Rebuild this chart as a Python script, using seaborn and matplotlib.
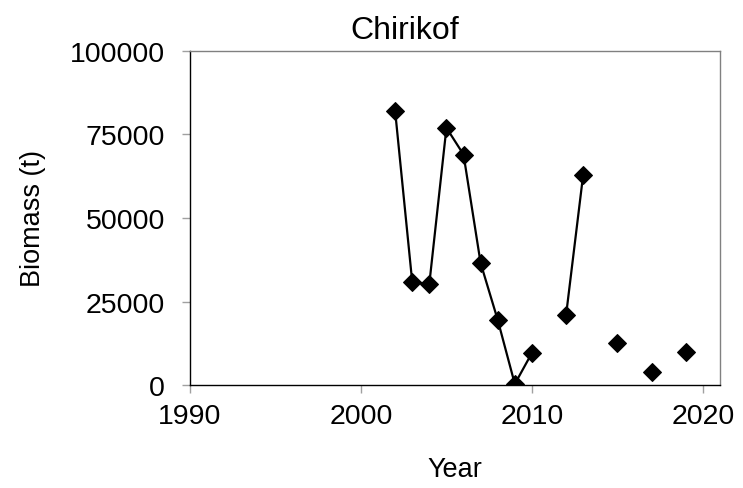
import matplotlib
matplotlib.use("Agg")
import matplotlib.pyplot as plt
import seaborn as sns
import numpy as np
import pandas as pd

# survey years and biomass estimates (t)
years = [2002, 2003, 2004, 2005, 2006, 2007, 2008, 2009, 2010, 2012, 2013, 2015, 2017, 2019]
biomass = [82000, 30800, 30300, 77000, 69000, 36500, 19500, 300, 9600, 21000, 63000, 12600, 4000, 9800]

x_ticks = [1990, 2000, 2010, 2020]
y_ticks = [0, 25000, 50000, 75000, 100000]

df = pd.DataFrame({"Year": years, "Biomass": biomass})
# break the line wherever a year is missing
df["segment"] = np.cumsum(np.r_[0, np.diff(df["Year"]) > 1])

sns.set_style("white")
plt.rcParams['font.family'] = ['Liberation Sans', 'DejaVu Sans']
plt.rcParams['text.color'] = 'black'
plt.rcParams['axes.labelcolor'] = 'black'

fig = plt.figure(figsize=(7.43, 4.89), dpi=100)
ax = fig.add_axes([0.2557, 0.2106, 0.7133, 0.6831])

sns.lineplot(data=df, x="Year", y="Biomass", units="segment", estimator=None,
             color="black", marker="D", markersize=9.5, markeredgecolor="black",
             linewidth=1.6, ax=ax)

ax.set_xlim(1990, 2021)
ax.set_ylim(0, 100000)
ax.set_xticks(x_ticks)
ax.set_yticks(y_ticks)
ax.set_xticklabels([str(t) for t in x_ticks])
ax.set_yticklabels([str(t) for t in y_ticks])

ax.tick_params(axis="both", direction="out", length=6, width=1, color="#a0a0a0",
               labelsize=20.5, labelcolor="black", bottom=True, left=True)
ax.tick_params(axis="x", pad=7)
ax.tick_params(axis="y", pad=12)

for side in ["left", "bottom"]:
    ax.spines[side].set_color("black")
    ax.spines[side].set_linewidth(1)
for side in ["top", "right"]:
    ax.spines[side].set_color("#808080")
    ax.spines[side].set_linewidth(1)

ax.set_title("Chirikof", fontsize=23, pad=9, color="black", x=0.406)
ax.set_xlabel("Year", fontsize=19.5)
ax.set_ylabel("Biomass (t)", fontsize=19.5)
ax.xaxis.label.set_va("center")
ax.yaxis.label.set_va("center")
ax.xaxis.set_label_coords(0.5, -0.252)
ax.yaxis.set_label_coords(-0.297, 0.5)

fig.savefig("out.png", dpi=100)
